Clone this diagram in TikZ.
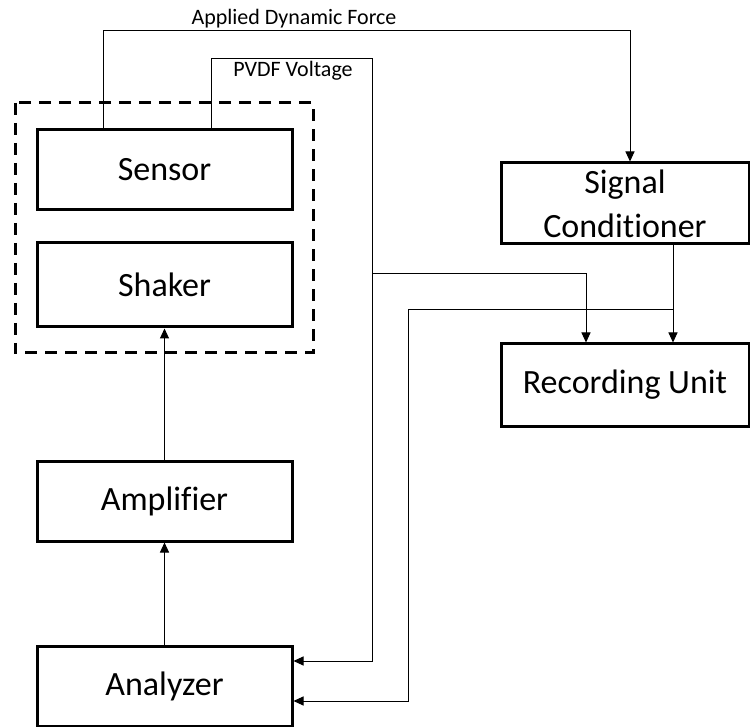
\documentclass[tikz,border=0pt]{standalone}
\usepackage{fontspec}
\setmainfont{Carlito}[Ligatures=NoCommon]
\usetikzlibrary{arrows.meta}
\begin{document}
\begin{tikzpicture}[x=1pt,y=-1pt,
  block/.style={draw,line width=3pt,minimum width=255pt,minimum height=80pt,
    inner sep=0pt,align=center,font=\fontsize{34}{44}\selectfont},
  conn/.style={line width=1pt},
  arr/.style={conn,-{Triangle[length=10pt,width=9pt]}},
  lbl/.style={inner sep=0pt,anchor=base,font=\fontsize{22}{26}\selectfont}]
\useasboundingbox (0,0) rectangle (750,727);

% blocks
\node[block] (sensor) at (164.5,170) {Sensor};
\node[block,minimum height=84pt] (shaker) at (164.5,285) {Shaker};
\node[block] (amp) at (164.5,501) {Amplifier};
\node[block] (analyzer) at (164.5,686) {Analyzer};
\node[block,minimum width=248pt,minimum height=81pt] (sigc) at (625,203.5) {Signal\\Conditioner};
\node[block,minimum width=248pt,minimum height=82pt] (rec) at (625,385) {Recording Unit};

% dashed enclosure around sensor and shaker
\draw[line width=3pt,dash pattern=on 12pt off 8pt] (15,103) rectangle (313,353);

% routing points
\coordinate (adf) at (630,31);
\coordinate (pv) at (372,59);
\coordinate (j1) at (372,274);
\coordinate (j2) at (673,310);
\coordinate (j3) at (408,310);

% connectors
\draw[arr] ([xshift=68pt]sensor.north west) |- (adf) -- (adf |- sigc.north);
\draw[arr] ([xshift=176pt]sensor.north west) |- (pv) |- ([yshift=25pt]analyzer.east);
\draw[arr] (j1) -| ([xshift=-39pt]rec.north);
\draw[arr] ([xshift=48pt]sigc.south) -- ([xshift=48pt]rec.north);
\draw[arr] (j2) -- (j3) |- ([yshift=-15pt]analyzer.east);
\draw[arr] (analyzer.north) -- (amp.south);
\draw[arr] (amp.north) -- (shaker.south);

% labels
\node[lbl] (lforce) at (294,25) {Applied Dynamic Force};
\node[lbl] (lpvdf) at (293,77) {PVDF Voltage};
\end{tikzpicture}
\end{document}
